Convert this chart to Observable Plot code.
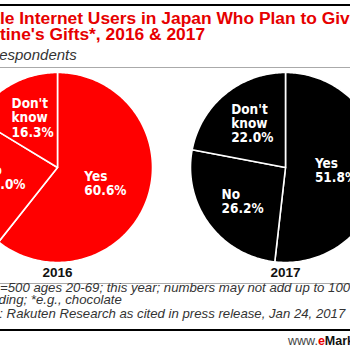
<!DOCTYPE html>
<html><head><meta charset="utf-8">
<script src="https://cdn.jsdelivr.net/npm/d3@7"></script>
<script src="https://cdn.jsdelivr.net/npm/@observablehq/plot@0.6"></script>
<style>
html,body{margin:0;padding:0;background:#fff;}
#wrap{position:relative;width:350px;height:350px;overflow:hidden;font-family:"Liberation Sans",Arial,sans-serif;}
.abs{position:absolute;white-space:nowrap;}
#title{left:-45.5px;top:9.5px;font-size:17.4px;line-height:16.5px;font-weight:bold;color:#e60000;}
#sub{left:-40px;top:47px;font-size:15px;line-height:15px;font-style:italic;color:#333;}
#note{left:-42.5px;top:282px;font-size:13.2px;line-height:12px;font-style:italic;color:#333;}
#src{left:-42.5px;top:307.5px;font-size:13.2px;line-height:12px;font-style:italic;color:#333;}
#brand{left:288px;top:334.5px;font-size:12.5px;line-height:12.5px;color:#444;}
#chart{position:absolute;left:0;top:68px;}
</style></head><body>
<div id="wrap">
  <div class="abs" style="left:0;top:4px;width:350px;height:2px;background:#000"></div>
  <div class="abs" id="title">Female Internet Users in Japan Who Plan to Give<br>Valentine's Gifts*, 2016 &amp; 2017</div>
  <div class="abs" id="sub">% of respondents</div>
  <div class="abs" style="left:0;top:67px;width:350px;height:1px;background:#aaa"></div>
  <div id="chart"></div>
  <div class="abs" style="left:0;top:283px;width:350px;height:1px;background:#aaa"></div>
  <div class="abs" id="note">Note: n=500 ages 20-69; this year; numbers may not add up to 100% due<br>to rounding; *e.g., chocolate</div>
  <div class="abs" id="src">Source: Rakuten Research as cited in press release, Jan 24, 2017</div>
  <div class="abs" style="left:0;top:329px;width:350px;height:2px;background:#000"></div>
  <div class="abs" id="brand">www.<b style="color:#e60000">e</b><b style="color:#111">Marketer</b>.com</div>
</div>
<script>
// ---- data ----
const years = ["2016", "2017"];
const answers = ["Yes", "No", "Don't know"];
const answerLabels = ["Yes", "No", "Don't\nknow"];
const share2016 = [60.6, 23.0, 16.3];
const share2017 = [51.8, 26.2, 22.0];
const pieColors = ["#ff0000", "#000000"];

// ---- layout ----
const W = 350, H = 214;
const Rpx = 95;          // pie radius in px
const x0 = -0.6;         // left edge in radius units
const yTop = 1.042;      // top edge in radius units
const gap = 2.4;         // distance between pie centres in radius units

const series = [share2016, share2017];
const wedges = [];
const labels = [];
series.forEach((vals, i) => {
  const total = d3.sum(vals);
  const cx = i * gap;
  let a = 0;
  vals.forEach((v, j) => {
    const frac = v / total;
    const a0 = a, a1 = a + frac * 2 * Math.PI;
    const key = years[i] + "-" + answers[j];
    wedges.push({key, year: years[i], x: cx, y: 0});
    const n = Math.max(2, Math.ceil((a1 - a0) / (Math.PI / 180)));
    for (let k = 0; k <= n; k++) {
      const t = a0 + (a1 - a0) * k / n;
      wedges.push({key, year: years[i], x: cx + Math.sin(t), y: Math.cos(t)});
    }
    wedges.push({key, year: years[i], x: cx, y: 0});
    const m = (a0 + a1) / 2;
    const lr = frac > 0.5 ? 0.5 : 0.6;
    labels.push({x: cx + lr * Math.sin(m), y: lr * Math.cos(m), text: answerLabels[j] + "\n" + v.toFixed(1) + "%"});
    a = a1;
  });
});
const yearMarks = years.map((y, i) => ({x: i * gap, y: -1.11, text: y}));

const chart = Plot.plot({
  width: W, height: H,
  margin: 0,
  x: {domain: [x0, x0 + W / Rpx], range: [0, W], axis: null},
  y: {domain: [yTop - H / Rpx, yTop], range: [H, 0], axis: null},
  style: {background: "transparent", fontFamily: "Liberation Sans, Arial, sans-serif"},
  marks: [
    ...years.map((yr, i) => Plot.line(wedges.filter(d => d.year === yr), {
      x: "x", y: "y", z: "key", fill: pieColors[i], stroke: "#fff", strokeWidth: 1.6,
      strokeLinejoin: "round", curve: "linear"
    })),
    Plot.text(labels, {x: "x", y: "y", text: "text", textAnchor: "start", dx: -18,
      lineAnchor: "middle", lineHeight: 1.05, fill: "#fff", fontWeight: "bold", fontSize: 13.5,
      fontFamily: "Liberation Sans Narrow, DejaVu Sans Condensed, Liberation Sans, sans-serif"}),
    Plot.text(yearMarks, {x: "x", y: "y", text: "text", fill: "#111", fontWeight: "bold", fontSize: 13.5})
  ]
});
document.getElementById("chart").appendChild(chart);
</script>
</body></html>
